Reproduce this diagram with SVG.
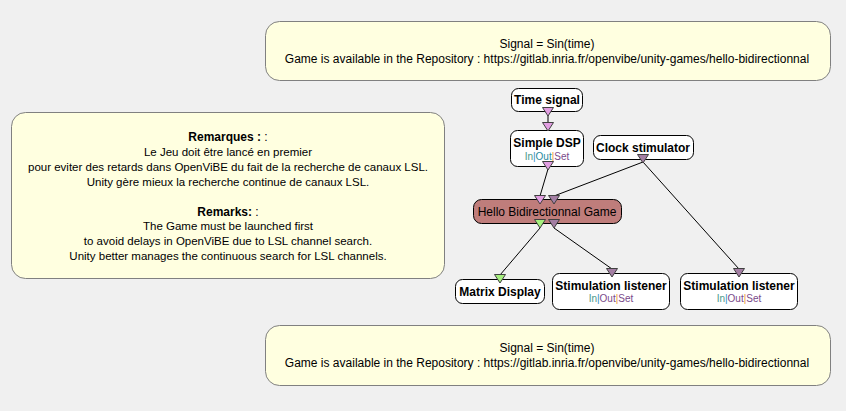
<svg xmlns="http://www.w3.org/2000/svg" width="846" height="411" viewBox="0 0 846 411">
<style>
.bg{fill:#f0f0f0}
.cmt{fill:#ffffe0;stroke:#808080;stroke-width:1}
.node{fill:#ffffff;stroke:#000;stroke-width:1}
.game{fill:#bf7d7b;stroke:#000;stroke-width:1}
text{font-family:"Liberation Sans",Arial,sans-serif;fill:#000}
.t{font-size:12px;text-anchor:middle}
.tl{font-size:11.5px;text-anchor:middle}
.b{font-size:12px;font-weight:bold;text-anchor:middle}
.s{font-size:10px;text-anchor:middle}
.ln{stroke:#000;stroke-width:1;fill:none}
.pk{fill:#e29ee2;stroke:#404040;stroke-width:1}
.pu{fill:#a47fa4;stroke:#404040;stroke-width:1}
.gr{fill:#a6f07e;stroke:#404040;stroke-width:1}
.in{fill:#4a9a8a}.ob{fill:#2f8fc0}.oo{fill:#f09030}.out1{fill:#2a8aa0}.out2{fill:#7a4a8a}.set{fill:#7a4a8a}
</style>
<rect class="bg" x="0" y="0" width="846" height="411"/>

<g id="comment-top">
<rect class="cmt" x="265.5" y="21.5" width="565" height="59" rx="14"/>
<text class="t" x="547" y="48">Signal = Sin(time)</text>
<text class="t" x="547" y="63">Game is available in the Repository : https://gitlab.inria.fr/openvibe/unity-games/hello-bidirectionnal</text>
</g>

<g id="comment-left">
<rect class="cmt" x="11.5" y="112.5" width="433" height="166" rx="14"/>
<text class="b" x="228" y="141">Remarques : <tspan font-weight="normal">:</tspan></text>
<text class="tl" x="228" y="156">Le Jeu doit être lancé en premier</text>
<text class="tl" x="228" y="171">pour eviter des retards dans OpenViBE du fait de la recherche de canaux LSL.</text>
<text class="tl" x="228" y="186">Unity gère mieux la recherche continue de canaux LSL.</text>
<text class="b" x="228" y="216">Remarks: <tspan font-weight="normal">:</tspan></text>
<text class="tl" x="228" y="230">The Game must be launched first</text>
<text class="tl" x="228" y="245">to avoid delays in OpenViBE due to LSL channel search.</text>
<text class="tl" x="228" y="260">Unity better manages the continuous search for LSL channels.</text>
</g>

<g id="comment-bottom">
<rect class="cmt" x="265.5" y="325.5" width="565" height="60" rx="14"/>
<text class="t" x="547" y="352">Signal = Sin(time)</text>
<text class="t" x="547" y="367">Game is available in the Repository : https://gitlab.inria.fr/openvibe/unity-games/hello-bidirectionnal</text>
</g>

<g id="connectors">
<line class="ln" x1="548" y1="115" x2="548" y2="123"/>
<line class="ln" x1="548" y1="169" x2="540" y2="196"/>
<line class="ln" x1="643" y1="162" x2="554" y2="196"/>
<line class="ln" x1="643" y1="162" x2="739" y2="269"/>
<line class="ln" x1="540" y1="228" x2="500" y2="275"/>
<line class="ln" x1="554" y1="228" x2="612" y2="269"/>
</g>

<g id="time-signal">
<rect class="node" x="511.5" y="88.5" width="71" height="23" rx="7"/>
<text class="b" x="547" y="104">Time signal</text>
<polygon class="pk" points="542.5,107.5 553.5,107.5 548,116"/>
</g>

<g id="simple-dsp">
<rect class="node" x="510.5" y="130.5" width="73" height="36" rx="7"/>
<text class="b" x="547" y="147">Simple DSP</text>
<text class="s" x="547" y="160"><tspan class="in">In</tspan><tspan class="ob">|</tspan><tspan class="out1">Out</tspan><tspan class="oo">|</tspan><tspan class="set">Set</tspan></text>
<polygon class="pk" points="542.5,122.5 553.5,122.5 548,131"/>
<polygon class="pk" points="542.5,161.5 553.5,161.5 548,170"/>
</g>

<g id="clock-stimulator">
<rect class="node" x="593.5" y="135.5" width="100" height="24" rx="7"/>
<text class="b" x="643" y="152">Clock stimulator</text>
<polygon class="pu" points="637.5,154.5 648.5,154.5 643,163"/>
</g>

<g id="hello-game">
<rect class="game" x="473.5" y="199.5" width="148" height="24" rx="8"/>
<text class="t" x="547" y="216" font-size="12.5px">Hello Bidirectionnal Game</text>
<polygon class="pk" points="534.5,195.5 545.5,195.5 540,204"/>
<polygon class="pu" points="548.5,195.5 559.5,195.5 554,204"/>
<polygon class="gr" points="534.5,219.5 545.5,219.5 540,228"/>
<polygon class="pu" points="548.5,219.5 559.5,219.5 554,228"/>
</g>

<g id="matrix-display">
<rect class="node" x="455.5" y="279.5" width="89" height="24" rx="7"/>
<text class="b" x="500" y="296">Matrix Display</text>
<polygon class="gr" points="494.5,274.5 505.5,274.5 500,283"/>
</g>

<g id="stim-listener-1">
<rect class="node" x="552.5" y="273.5" width="117" height="36" rx="7"/>
<text class="b" x="611" y="290">Stimulation listener</text>
<text class="s" x="611" y="302"><tspan class="in">In</tspan><tspan class="ob">|</tspan><tspan class="out2">Out</tspan><tspan class="oo">|</tspan><tspan class="set">Set</tspan></text>
<polygon class="pu" points="606.5,268.5 617.5,268.5 612,277"/>
</g>

<g id="stim-listener-2">
<rect class="node" x="680.5" y="273.5" width="117" height="36" rx="7"/>
<text class="b" x="739" y="290">Stimulation listener</text>
<text class="s" x="739" y="302"><tspan class="in">In</tspan><tspan class="ob">|</tspan><tspan class="out2">Out</tspan><tspan class="oo">|</tspan><tspan class="set">Set</tspan></text>
<polygon class="pu" points="733.5,268.5 744.5,268.5 739,277"/>
</g>
</svg>
